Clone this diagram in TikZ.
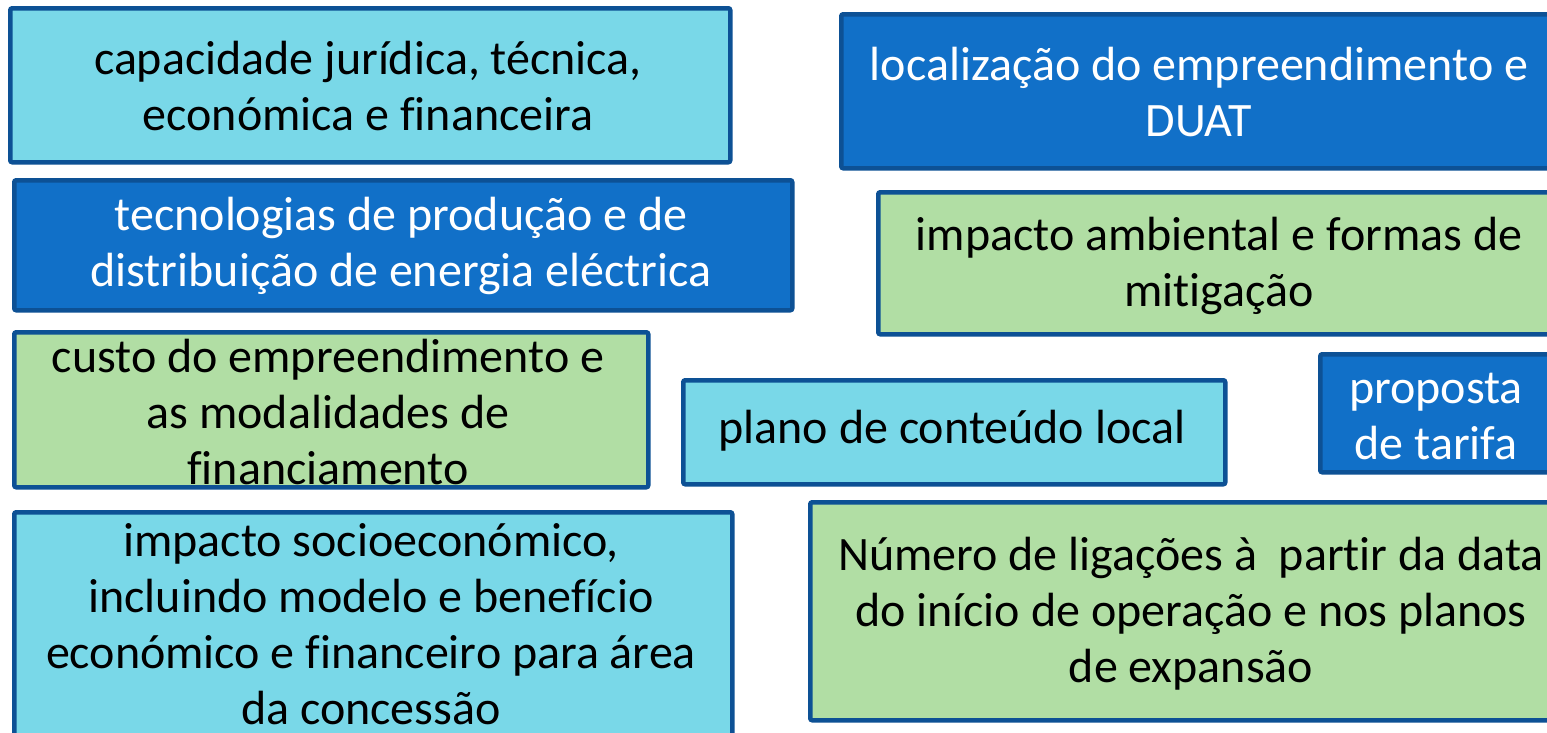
\documentclass[tikz,border=0pt]{standalone}
\usepackage{fontspec}
\setmainfont{Carlito}[Ligatures={NoCommon}]
\definecolor{cyanbox}{HTML}{79D8E8}
\definecolor{bluebox}{HTML}{1170C8}
\definecolor{greenbox}{HTML}{B1DEA4}
\definecolor{edgeblue}{HTML}{0D5195}
\tikzset{
  card/.style={draw=edgeblue, line width=4.5pt, rounded corners=2pt, inner sep=0pt, anchor=north west},
  cyancard/.style={card, fill=cyanbox},
  bluecard/.style={card, fill=bluebox},
  greencard/.style={card, fill=greenbox},
  label/.style={inner sep=0pt, align=center, font=\fontsize{48}{56}\selectfont},
  darklabel/.style={label, text=black},
  lightlabel/.style={label, text=white},
}
\begin{document}
\begin{tikzpicture}[x=1pt,y=-1pt]
\clip (0,0) rectangle (1547,732);
\fill[white] (0,0) rectangle (1547,732);
% boxes
\node[cyancard, minimum width=720pt, minimum height=154pt] (b1) at (8,6) {};
\node[bluecard, minimum width=730pt, minimum height=154pt] (b2) at (839,12) {};
\node[bluecard, minimum width=778pt, minimum height=130pt] (b3) at (12,178) {};
\node[greencard, minimum width=690pt, minimum height=142pt] (b4) at (876,190) {};
\node[greencard, minimum width=634pt, minimum height=155pt] (b5) at (12,330) {};
\node[cyancard, minimum width=542pt, minimum height=104pt] (b6) at (681,378) {};
\node[bluecard, minimum width=250pt, minimum height=118pt] (b7) at (1318,352) {};
\node[cyancard, minimum width=718pt, minimum height=240pt] (b8) at (12,510) {};
\node[greencard, minimum width=760pt, minimum height=218pt] (b9) at (808,500) {};
% texts
\node[darklabel] (t1) at (368,86) {capacidade jurídica, técnica,\\económica e financeira};
\node[lightlabel] (t2) at (1199,92) {localização do empreendimento e\\DUAT};
\node[lightlabel] (t3) at (401,246) {tecnologias de produção e de\\distribuição de energia eléctrica};
\node[darklabel] (t4) at (1219,266) {impacto ambiental e formas de\\mitigação};
\node[darklabel] (t5) at (328,412) {custo do empreendimento e\\as modalidades de\\financiamento};
\node[darklabel] (t6) at (952,431) {plano de conteúdo local};
\node[lightlabel] (t7) at (1436,416) {proposta\\de tarifa};
\node[darklabel] (t8) at (371,624) {impacto socioeconómico,\\incluindo modelo e benefício\\económico e financeiro para área\\da concessão};
\node[darklabel] (t9) at (1191,614) {Número de ligações à\ \ partir da data\\do início de operação e nos planos\\de expansão};
\end{tikzpicture}
\end{document}
